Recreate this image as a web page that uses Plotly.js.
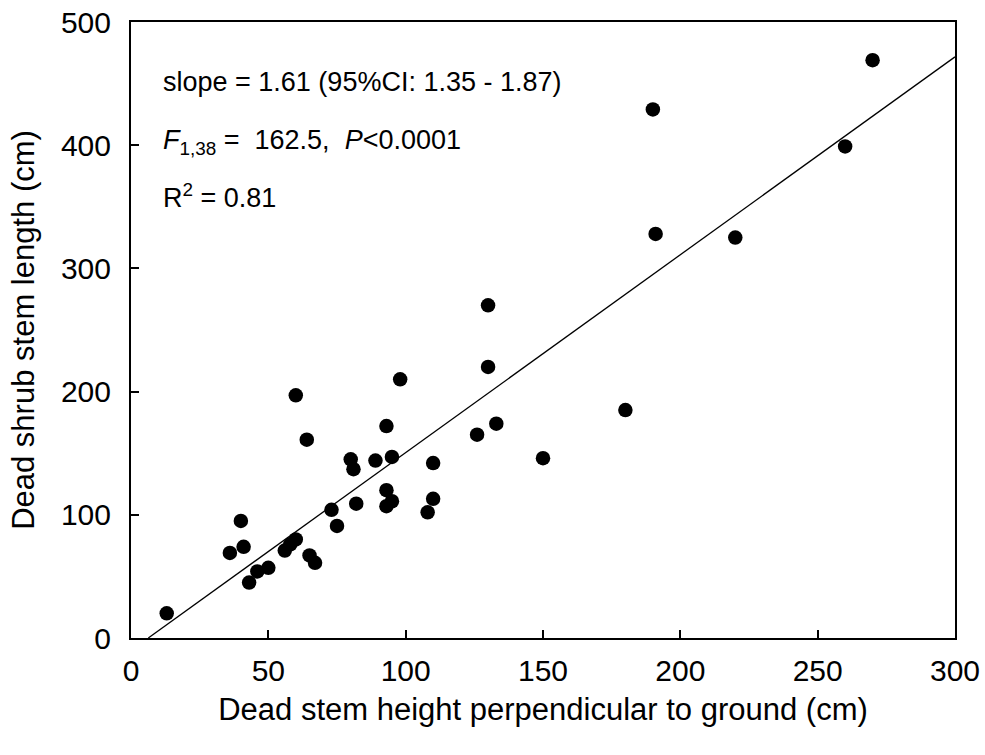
<!DOCTYPE html>
<html>
<head>
<meta charset="utf-8">
<script src="https://cdn.plot.ly/plotly-3.0.1.min.js"></script>
<style>html,body{margin:0;padding:0;background:#fff;}#chart{width:985px;height:755px;}</style>
</head>
<body>
<div id="chart"></div>
<script>
// Data
const stemHeight = [13, 36, 40, 41, 43, 46, 50, 56, 58, 60, 60, 64, 65, 67, 73, 75, 80, 81, 82, 89,
                    93, 95, 93, 93, 95, 98, 108, 110, 110, 126, 130, 130, 133, 150, 180, 190, 191, 220, 260, 270];
const stemLength = [20, 69, 95, 74, 45, 54, 57, 71, 76, 80, 197, 161, 67, 61, 104, 91, 145, 137, 109, 144,
                    172, 147, 120, 107, 111, 210, 102, 113, 142, 165, 270, 220, 174, 146, 185, 429, 328, 325, 399, 469];
const fitSlope = 1.606;
const fitIntercept = -10.1;
const fitXRange = [6.3, 300];
const xTicks = [0, 50, 100, 150, 200, 250, 300];
const yTicks = [0, 100, 200, 300, 400, 500];
const annotationLines = [
  "slope = 1.61 (95%CI: 1.35 - 1.87)",
  "<i>F</i><sub>1,38</sub> =  162.5,  <i>P</i>&lt;0.0001",
  "R<sup>2</sup> = 0.81"
];
const annotationY = [451, 403, 359];

const fitY = fitXRange.map(x => fitSlope * x + fitIntercept);

const font = "Liberation Sans, Arial, sans-serif";

const traces = [
  {
    x: fitXRange, y: fitY, type: "scatter", mode: "lines",
    line: {color: "#000", width: 1.3}, hoverinfo: "skip"
  },
  {
    x: stemHeight, y: stemLength, type: "scatter", mode: "markers",
    marker: {color: "#000", size: 14.5, line: {width: 0}}
  }
];

const annotations = annotationLines.map((t, i) => ({
  text: t, x: 10.8, y: annotationY[i], xref: "x", yref: "y",
  xanchor: "left", yanchor: "middle", showarrow: false,
  font: {family: font, size: 27, color: "#000"}
}));

const layout = {
  width: 985, height: 755,
  margin: {l: 131, r: 30, t: 22, b: 117},
  paper_bgcolor: "#fff", plot_bgcolor: "#fff",
  showlegend: false,
  font: {family: font, color: "#000"},
  xaxis: {
    range: [0, 300], tickvals: xTicks,
    ticks: "inside", ticklen: 8, tickwidth: 2, tickcolor: "#000",
    showline: true, linecolor: "#000", linewidth: 2, mirror: true,
    showgrid: false, zeroline: false,
    tickfont: {family: font, size: 30, color: "#000"},
    ticklabelstandoff: 5,
    title: {text: "Dead stem height perpendicular to ground (cm)", font: {family: font, size: 31, color: "#000"}, standoff: 12}
  },
  yaxis: {
    range: [0, 500], tickvals: yTicks,
    ticks: "inside", ticklen: 8, tickwidth: 2, tickcolor: "#000",
    showline: true, linecolor: "#000", linewidth: 2, mirror: true,
    showgrid: false, zeroline: false,
    tickfont: {family: font, size: 30, color: "#000"},
    ticklabelstandoff: 12,
    title: {text: "Dead shrub stem length (cm)", font: {family: font, size: 31, color: "#000"}, standoff: 17}
  },
  annotations: annotations
};

Plotly.newPlot("chart", traces, layout, {displayModeBar: false, staticPlot: true});
</script>
</body>
</html>
